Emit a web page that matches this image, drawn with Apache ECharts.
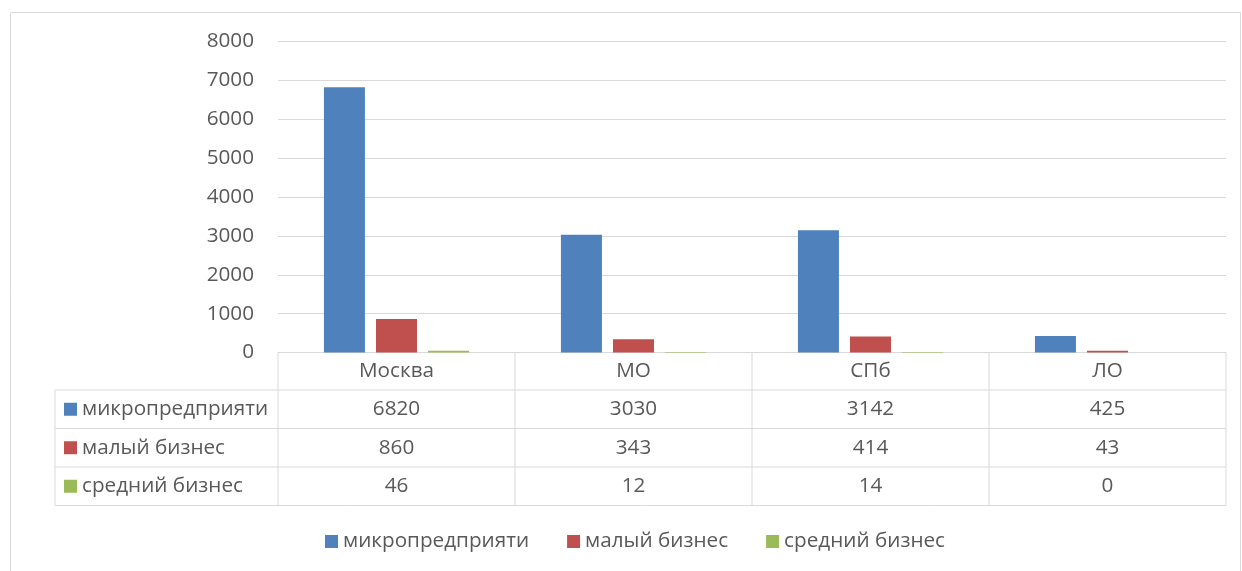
<!DOCTYPE html>
<html lang="ru">
<head>
	<meta charset="UTF-8">
	<title></title>
	<script src="https://cdn.jsdelivr.net/npm/echarts@6/dist/echarts.min.js"></script>
	<style>
		html, body{
			width: 100%;
			height: 100%;
			padding: 0;
			margin: 0;
			background-color: #fff;
		}
		#main{
			width: 1242px;
			height: 571px;
		}
	</style>
</head>
<body>
	<div id="main"></div>
</body>
<script>
	// данные
	let categories = ['Москва', 'МО', 'СПб', 'ЛО'];
	let seriesNames = ['микропредприяти', 'малый бизнес', 'средний бизнес'];
	let micro = [6820, 3030, 3142, 425];
	let small = [860, 343, 414, 43];
	let medium = [46, 12, 14, 0];
	let colors = ['#4f81bd', '#c0504d', '#9bbb59'];
	let yMax = 8000;
	let yStep = 1000;

	let font = "'Open Sans', 'Noto Sans', sans-serif";
	let textColor = '#595959';
	let lineColor = '#d9d9d9';
	let fontSize = 20.7;

	let myChart = echarts.init(document.getElementById('main'));

	myChart.setOption({
		animation: false,
		color: colors,
		grid: {
			left: 278,
			right: 16,
			top: 41.5,
			bottom: 218.5
		},
		legend: {
			data: seriesNames,
			left: 320,
			top: 526,
			icon: 'rect',
			itemWidth: 13,
			itemHeight: 13,
			itemGap: 38,
			textStyle: {
				fontFamily: font,
				fontSize: fontSize,
				color: textColor
			}
		},
		xAxis: {
			type: 'category',
			data: categories,
			axisTick: {show: false},
			axisLine: {lineStyle: {color: lineColor, width: 1}},
			axisLabel: {
				fontFamily: font,
				fontSize: fontSize,
				color: textColor,
				margin: 18.5,
				verticalAlign: 'middle'
			}
		},
		yAxis: {
			type: 'value',
			min: 0,
			max: yMax,
			interval: yStep,
			axisLine: {show: false},
			axisTick: {show: false},
			axisLabel: {
				fontFamily: font,
				fontSize: fontSize,
				color: textColor,
				margin: 24,
				formatter: v => String(v)
			},
			splitLine: {lineStyle: {color: lineColor, width: 1}}
		},
		series: [
			{name: seriesNames[0], type: 'bar', data: micro, barWidth: 41, barGap: '27%'},
			{name: seriesNames[1], type: 'bar', data: small, barWidth: 41, barGap: '27%'},
			{name: seriesNames[2], type: 'bar', data: medium, barWidth: 41, barGap: '27%'}
		]
	});

	// таблица данных под графиком
	function buildTable(){
		let rows = [micro, small, medium];
		let x0 = myChart.convertToPixel({xAxisIndex: 0}, 0);
		let x1 = myChart.convertToPixel({xAxisIndex: 0}, 1);
		let colW = x1 - x0;
		let gridLeft = x0 - colW / 2;
		let gridRight = gridLeft + colW * categories.length;
		let top = myChart.convertToPixel({yAxisIndex: 0}, 0);
		let tableLeft = 55;
		let rowH = [37.5, 38.5, 38.5, 38.5];
		let ys = [top];
		rowH.forEach(h => ys.push(ys[ys.length - 1] + h));
		let els = [];
		let line = (xa, ya, xb, yb) => ({
			type: 'line',
			shape: {x1: xa, y1: ya, x2: xb, y2: yb},
			style: {stroke: lineColor, lineWidth: 1}
		});

		// рамка
		els.push({
			type: 'rect',
			shape: {x: 10.5, y: 12.5, width: 1230, height: 600},
			style: {fill: 'none', stroke: lineColor, lineWidth: 1}
		});

		// горизонтальные линии
		for(let i = 1; i < ys.length; i++){
			els.push(line(tableLeft, ys[i], gridRight, ys[i]));
		}
		// вертикальные линии
		els.push(line(tableLeft, ys[1], tableLeft, ys[4]));
		for(let c = 0; c <= categories.length; c++){
			let x = gridLeft + colW * c;
			els.push(line(x, ys[0], x, ys[4]));
		}

		rows.forEach((vals, r) => {
			let cy = (ys[r + 1] + ys[r + 2]) / 2;
			els.push({
				type: 'rect',
				shape: {x: 64, y: cy - 6.5, width: 13, height: 13},
				style: {fill: colors[r]}
			});
			els.push({
				type: 'text',
				x: 82,
				y: cy,
				style: {
					text: seriesNames[r],
					fontFamily: font,
					fontSize: fontSize,
					fill: textColor,
					align: 'left',
					verticalAlign: 'middle'
				}
			});
			vals.forEach((v, c) => {
				els.push({
					type: 'text',
					x: myChart.convertToPixel({xAxisIndex: 0}, c),
					y: cy,
					style: {
						text: String(v),
						fontFamily: font,
						fontSize: fontSize,
						fill: textColor,
						align: 'center',
						verticalAlign: 'middle'
					}
				});
			});
		});

		myChart.setOption({graphic: {elements: els}});
	}

	buildTable();
</script>
</html>
